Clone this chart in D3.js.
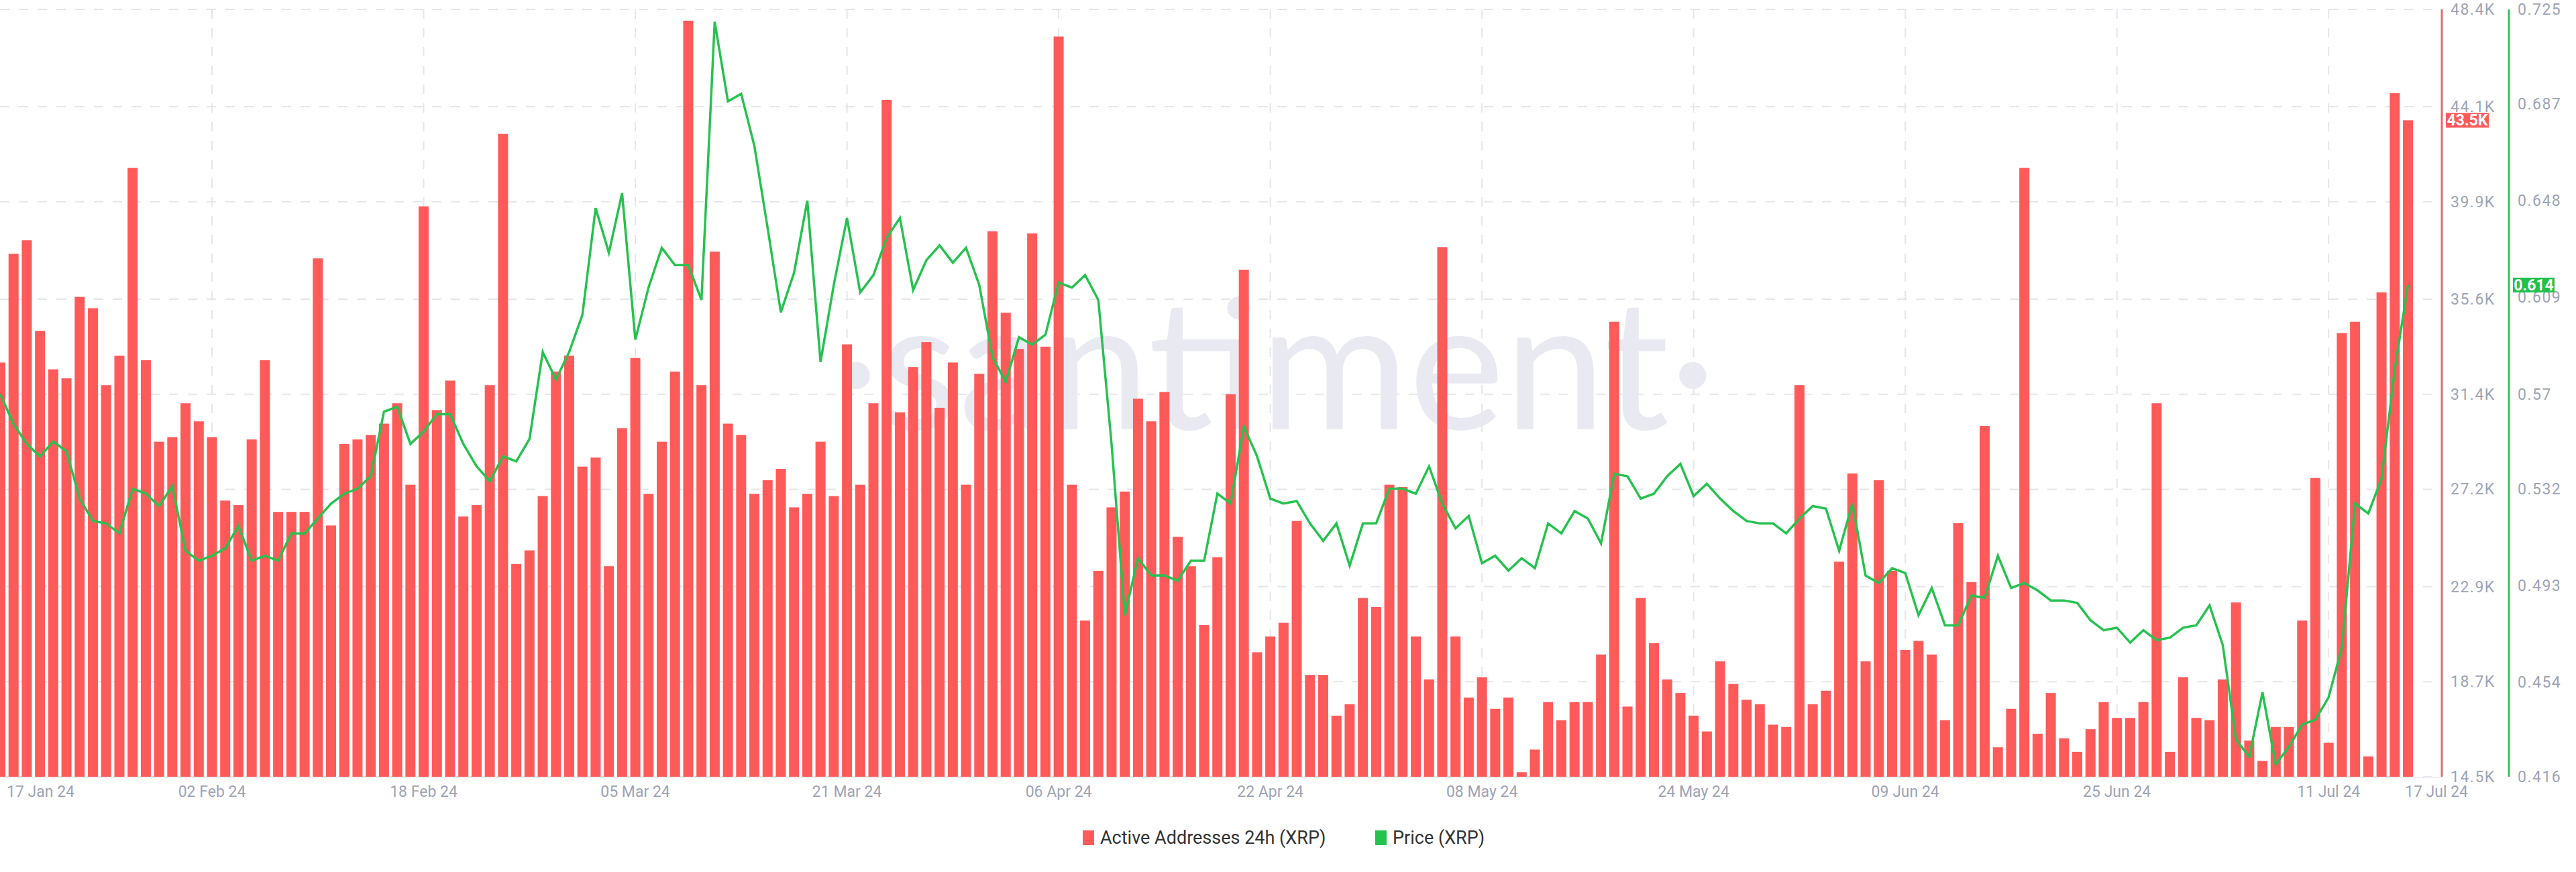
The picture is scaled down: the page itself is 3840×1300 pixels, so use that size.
<!DOCTYPE html>
<html><head><meta charset="utf-8">
<script src="https://cdn.jsdelivr.net/npm/d3@7"></script>
<style>body{margin:0;background:#fff;font-family:Roboto,"Noto Sans",sans-serif;}</style>
</head><body><svg id="c" width="3840" height="1300"></svg>
<script>
const startDate = "2024-01-17";
const activeAddresses = [32.8,37.6,38.2,34.2,32.5,32.1,35.7,35.2,31.8,33.1,41.4,32.9,29.3,29.5,31.0,30.2,29.5,26.7,26.5,29.4,32.9,26.2,26.2,26.2,37.4,25.6,29.2,29.4,29.6,30.1,31.0,27.4,39.7,30.7,32.0,26.0,
26.5,31.8,42.9,23.9,24.5,26.9,32.4,33.1,28.2,28.6,23.8,29.9,33.0,27.0,29.3,32.4,47.9,31.8,37.7,30.1,29.6,27.0,27.6,28.1,26.4,27.0,29.3,26.9,33.6,27.4,31.0,44.4,30.6,
32.6,33.7,30.8,32.8,27.4,32.3,38.6,35.0,33.4,38.5,33.5,47.2,27.4,21.4,23.6,26.4,27.1,31.2,30.2,31.5,25.1,23.8,21.2,24.2,31.4,36.9,20.0,20.7,21.3,25.8,19.0,19.0,17.2,17.7,22.4,22.0,27.4,27.3,20.7,18.8,37.9,
20.7,18.0,18.9,17.5,18.0,14.7,15.7,17.8,17.0,17.8,17.8,19.9,34.6,17.6,22.4,20.4,18.8,18.2,17.2,16.5,19.6,18.6,17.9,17.7,16.8,16.7,31.8,17.7,18.3,24.0,27.9,19.6,27.6,23.6,20.1,20.5,19.9,17.0,25.7,23.1,30.0,15.8,17.5,41.4,
16.4,18.2,16.2,15.6,16.6,17.8,17.1,17.1,17.8,31.0,15.6,18.9,17.1,17.0,18.8,22.2,16.1,15.2,16.7,16.7,21.4,27.7,16.0,34.1,34.6,15.4,35.9,44.7,43.5];
const price = [0.570,0.558,0.550,0.545,0.551,0.547,0.528,0.519,0.518,0.514,0.532,0.530,0.525,0.533,0.507,0.503,0.505,0.508,0.517,0.503,0.505,0.503,0.514,0.514,0.520,0.526,0.530,0.532,0.537,0.563,0.565,0.550,0.555,0.562,0.562,0.550,
0.541,0.535,0.545,0.543,0.552,0.587,0.576,0.587,0.602,0.645,0.627,0.651,0.592,0.613,0.629,0.622,0.622,0.608,0.720,0.688,0.691,0.670,0.637,0.603,0.619,0.648,0.583,0.614,0.641,0.611,0.618,0.633,0.641,
0.612,0.624,0.630,0.623,0.629,0.614,0.585,0.575,0.593,0.590,0.594,0.615,0.613,0.618,0.608,0.550,0.481,0.504,0.497,0.497,0.495,0.503,0.503,0.530,0.526,0.557,0.545,0.528,0.526,0.527,0.518,0.511,0.518,0.501,0.518,0.518,0.532,0.532,0.530,0.541,0.526,0.516,0.521,0.502,0.505,0.499,0.504,0.500,0.518,0.514,0.523,0.520,0.510,0.538,0.537,0.528,0.530,0.537,0.542,0.529,0.534,0.528,0.523,0.519,0.518,0.518,0.514,0.520,0.525,0.524,0.507,0.526,0.497,0.494,0.500,0.498,0.481,0.492,0.477,0.477,0.489,0.488,0.505,0.492,0.494,0.491,0.487,0.487,0.486,0.479,0.475,0.476,0.470,0.475,0.471,0.472,0.476,0.477,0.485,0.469,0.431,0.424,0.450,0.421,0.428,0.437,0.439,0.448,0.468,0.526,0.522,0.536,0.580,0.614];
const leftTicks = [14.5,18.7,22.9,27.2,31.4,35.6,39.9,44.1,48.4];
const priceTicks = ["0.416","0.454","0.493","0.532","0.57","0.609","0.648","0.687","0.725"];
const dateTicks = ["2024-01-17","2024-02-02","2024-02-18","2024-03-05","2024-03-21","2024-04-06","2024-04-22","2024-05-08","2024-05-24","2024-06-09","2024-06-25","2024-07-11","2024-07-17"];
const seriesNames = ["Active Addresses 24h (XRP)","Price (XRP)"];

const RED="#ff5a5a", GREEN="#26c24f", GRID="#e4e6ec", TXT="#9da3b5";
const svg=d3.select("#c");
const pTop=14,pBottom=1158,pRight=3640,gAxis=3740;
const parse=d3.utcParse("%Y-%m-%d"), fmt=d3.utcFormat("%d %b %y");
const d0=parse(startDate);
const dateAt=i=>d3.utcDay.offset(d0,i);
const x=d3.scaleUtc().domain([parse("2024-01-17"),parse("2024-07-17")]).range([0.5,0.5+182*19.72]);
const yA=d3.scaleLinear().domain([14.5,48.4]).range([pBottom,pTop]);
const yP=d3.scaleLinear().domain([0.416,0.725]).range([pBottom,pTop]);

svg.append("defs").append("clipPath").attr("id","cl").append("rect").attr("x",0).attr("y",0).attr("width",pRight).attr("height",pBottom);

const g=svg.append("g");
g.selectAll(".hg").data(leftTicks).join("line").attr("x1",0).attr("x2",pRight-10).attr("y1",d=>yA(d)).attr("y2",d=>yA(d)).attr("stroke",GRID).attr("stroke-width",2).attr("stroke-dasharray","14,14");
g.selectAll(".vg").data(dateTicks.slice(1,-1)).join("line").attr("x1",d=>x(parse(d))).attr("x2",d=>x(parse(d))).attr("y1",pTop).attr("y2",pBottom).attr("stroke",GRID).attr("stroke-width",2).attr("stroke-dasharray","14,14");

svg.append("text").attr("x",1900).attr("y",640).attr("text-anchor","middle").attr("font-size",270).attr("font-family","Lato,Roboto,sans-serif").attr("fill","#e9eaf1").text("·santiment·");

const bw=15;
svg.append("g").attr("clip-path","url(#cl)").selectAll("rect").data(activeAddresses).join("rect")
 .attr("x",(d,i)=>x(dateAt(i))-bw/2).attr("width",bw).attr("y",d=>yA(d)).attr("height",d=>pBottom-yA(d)).attr("fill",RED);

svg.append("path").datum(price).attr("clip-path","url(#cl)").attr("fill","none").attr("stroke",GREEN).attr("stroke-width",3.5)
 .attr("d",d3.line().x((d,i)=>x(dateAt(i))).y(d=>yP(d)));

svg.append("line").attr("x1",pRight).attr("x2",pRight).attr("y1",pTop).attr("y2",pBottom).attr("stroke","#e8686a").attr("stroke-width",3);
svg.append("line").attr("x1",gAxis).attr("x2",gAxis).attr("y1",pTop).attr("y2",pBottom).attr("stroke","#3cbf5a").attr("stroke-width",3);
svg.append("line").attr("x1",0).attr("x2",pRight).attr("y1",pBottom+1).attr("y2",pBottom+1).attr("stroke","#eef0f4").attr("stroke-width",2);

const fs=23;
svg.selectAll(".lt").data(leftTicks).join("text").attr("x",pRight+13).attr("y",d=>yA(d)+8).attr("font-size",fs).attr("fill",TXT).attr("letter-spacing",1.5).text(d=>d+"K");
svg.selectAll(".pt").data(priceTicks).join("text").attr("x",gAxis+13).attr("y",d=>yP(+d)+8).attr("font-size",fs).attr("fill",TXT).attr("letter-spacing",1.5).text(d=>d);

const lastA=activeAddresses[activeAddresses.length-1], lastP=price[price.length-1];
svg.append("rect").attr("x",pRight+6).attr("y",yA(lastA)-11).attr("width",64).attr("height",22).attr("fill",RED);
svg.append("text").attr("x",pRight+38).attr("y",yA(lastA)+8).attr("text-anchor","middle").attr("font-size",fs).attr("font-weight","bold").attr("fill","#fff").text(lastA+"K");
svg.append("rect").attr("x",gAxis+6).attr("y",yP(lastP)-11).attr("width",62).attr("height",22).attr("fill","#21c04a");
svg.append("text").attr("x",gAxis+37).attr("y",yP(lastP)+8).attr("text-anchor","middle").attr("font-size",fs).attr("font-weight","bold").attr("fill","#fff").text(lastP.toFixed(3));

svg.selectAll(".xt").data(dateTicks).join("text")
 .attr("x",(d,i)=>i===0?10:(i===dateTicks.length-1?pRight-8:x(parse(d))))
 .attr("y",1188).attr("font-size",fs).attr("fill",TXT)
 .attr("text-anchor",(d,i)=>i===0?"start":"middle").text(d=>fmt(parse(d)));

const lg=svg.append("g").attr("font-size",27).attr("fill","#333");
[{n:seriesNames[0],c:RED,x:1614},{n:seriesNames[1],c:GREEN,x:2050}].forEach(it=>{
 lg.append("rect").attr("x",it.x).attr("y",1238).attr("width",17).attr("height",22).attr("fill",it.c);
 lg.append("text").attr("x",it.x+26).attr("y",1258).text(it.n);
});
</script></body></html>
